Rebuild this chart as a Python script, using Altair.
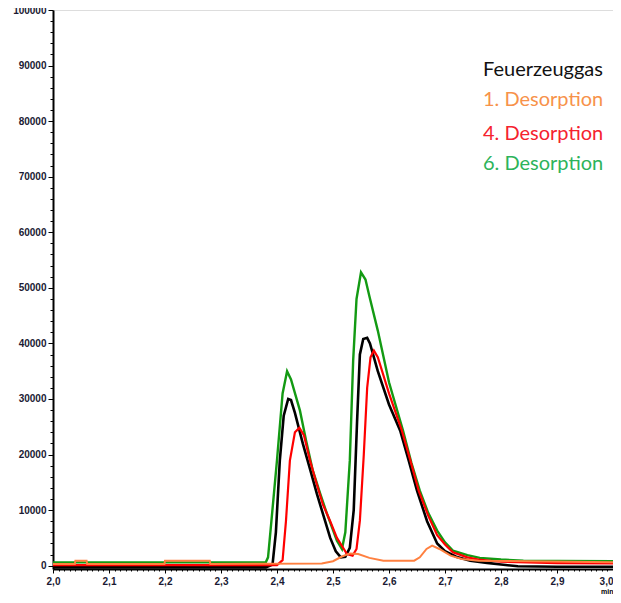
import altair as alt
import pandas as pd

# ---- data ----
black_t = [2.0, 2.38, 2.392, 2.398, 2.405, 2.412, 2.42, 2.425, 2.432, 2.446, 2.46, 2.471, 2.483, 2.495,
           2.505, 2.514, 2.522, 2.53, 2.537, 2.543, 2.548, 2.554, 2.561, 2.566, 2.58, 2.60, 2.62, 2.635,
           2.65, 2.668, 2.686, 2.70, 2.72, 2.745, 2.775, 2.80, 2.83, 2.9, 3.0]
black_v = [-300, -300, 200, 6000, 18900, 27000, 30000, 29800, 27500, 22000, 17000, 13000, 9000, 5000,
           2600, 1500, 1600, 3200, 10000, 26000, 38000, 40800, 41000, 40000, 35000, 29000, 24300, 19000,
           13500, 8000, 4000, 2600, 1600, 900, 500, 200, -100, -200, -200]

green_t = [2.0, 2.38, 2.384, 2.39, 2.40, 2.41, 2.418, 2.425, 2.441, 2.452, 2.464, 2.477, 2.489, 2.507,
           2.516, 2.522, 2.53, 2.536, 2.542, 2.55, 2.558, 2.565, 2.58, 2.60, 2.625, 2.64, 2.655, 2.67,
           2.686, 2.70, 2.714, 2.74, 2.762, 2.80, 2.84, 2.9, 3.0]
green_v = [600, 600, 1500, 8000, 19000, 31000, 35000, 33500, 27900, 22500, 17100, 13000, 9400, 4500,
           3000, 6000, 18900, 36900, 48000, 52800, 51500, 48500, 42300, 33000, 24300, 18500, 13500, 9500,
           6300, 4200, 2700, 1900, 1400, 1100, 900, 850, 800]

red_t = [2.0, 2.40, 2.41, 2.416, 2.423, 2.432, 2.44, 2.448, 2.459, 2.47, 2.482, 2.495, 2.507, 2.525,
         2.535, 2.542, 2.548, 2.555, 2.561, 2.567, 2.573, 2.58, 2.60, 2.623, 2.638, 2.653, 2.67, 2.686,
         2.70, 2.714, 2.74, 2.76, 2.8, 2.9, 3.0]
red_v = [100, 100, 1000, 8000, 18900, 24000, 24800, 23500, 18900, 15000, 11000, 8000, 5000, 2100,
         1800, 3000, 8100, 20000, 32000, 37500, 38700, 37500, 31000, 24300, 19000, 13500, 9000, 5500,
         3800, 2400, 1500, 1100, 700, 450, 400]

orange_t = [2.0, 2.039, 2.04, 2.06, 2.061, 2.199, 2.2, 2.28, 2.281, 2.48, 2.50, 2.515, 2.53, 2.545,
            2.565, 2.59, 2.645, 2.655, 2.667, 2.677, 2.69, 2.71, 2.73, 2.76, 2.85, 3.0]
orange_v = [300, 300, 900, 900, 300, 300, 900, 900, 300, 400, 800, 1600, 2200, 2100,
            1400, 900, 900, 1500, 3000, 3600, 3000, 1800, 1200, 900, 800, 600]

series_names = ["Feuerzeuggas", "6. Desorption", "4. Desorption", "1. Desorption"]
line_colors = ["#000000", "#139a13", "#ff0000", "#ff8040"]
line_widths = [2.6, 2.4, 2.2, 2.0]

legend_labels = ["Feuerzeuggas", "1. Desorption", "4. Desorption", "6. Desorption"]
legend_colors = ["#111111", "#f7924a", "#f5222e", "#2db35a"]
legend_y = [60, 90, 124, 154]

W, H = 560, 559

x_minor = [round(2.0 + i * 0.01, 2) for i in range(101)]
y_minor = [i * 2000 for i in range(51)]

xscale = alt.Scale(domain=[2.0, 3.0], nice=False, zero=False)
yscale = alt.Scale(domain=[-600, 100000], nice=False, zero=False)

label_font = "Liberation Sans"

x_axis = alt.Axis(
    values=x_minor,
    labelExpr="(round(datum.value*100) % 10 === 0) ? replace(format(datum.value, '.1f'), '.', ',') : ''",
    tickSize={"condition": {"test": "round(datum.value*100) % 10 === 0", "value": 4}, "value": 2},
    labelAlign={"condition": {"test": "datum.value >= 2.999", "value": "right"}, "value": "center"},
    labelFlush=False,
    labelOverlap=False, grid=False,
    domainColor="#000000", domainWidth=2, tickColor="#000000", tickWidth=1,
    labelFont=label_font, labelFontSize=10, labelFontWeight="bold", labelColor="#1a1a33",
    labelPadding=3,
    title="min", titleFont=label_font, titleFontSize=7, titleFontWeight="bold",
    titleAnchor="end", titleAlign="right", titleX=W, titleY=24, titleBaseline="alphabetic",
)
y_axis = alt.Axis(
    values=y_minor,
    labelExpr="(datum.value % 10000 === 0) ? format(datum.value, 'd') : ''",
    tickSize={"condition": {"test": "datum.value % 10000 === 0", "value": 5}, "value": 3},
    labelOverlap=False, grid=False,
    domainColor="#000000", domainWidth=2, tickColor="#000000", tickWidth=1,
    labelFont=label_font, labelFontSize=10, labelFontWeight="bold", labelColor="#1a1a33",
    labelPadding=2, title=None,
)

datasets = [(black_t, black_v), (green_t, green_v), (red_t, red_v), (orange_t, orange_v)]
layers = []
for i, (t, v) in enumerate(datasets):
    df = pd.DataFrame({"t": t, "v": v, "s": series_names[i]})
    enc = dict(
        x=alt.X("t:Q", scale=xscale, axis=x_axis),
        y=alt.Y("v:Q", scale=yscale, axis=y_axis),
        order="t:Q",
    )
    layers.append(
        alt.Chart(df).mark_line(color=line_colors[i], strokeWidth=line_widths[i], clip=True).encode(**enc)
    )

for lab, col, ly in zip(legend_labels, legend_colors, legend_y):
    layers.append(
        alt.Chart(pd.DataFrame({"label": [lab]})).mark_text(
            align="left", baseline="middle", font="Lato", fontSize=20, color=col
        ).encode(x=alt.value(430), y=alt.value(ly), text="label:N")
    )

chart = alt.layer(*layers).properties(
    width=W, height=H,
    autosize=alt.AutoSizeParams(type="none"),
    padding={"left": 45, "top": 2, "right": 0, "bottom": 26},
).configure_view(stroke="#8a8a8a", strokeWidth=1.5).configure(background="white")

chart.save("out.html", embed_options={"renderer": "svg", "actions": False})
